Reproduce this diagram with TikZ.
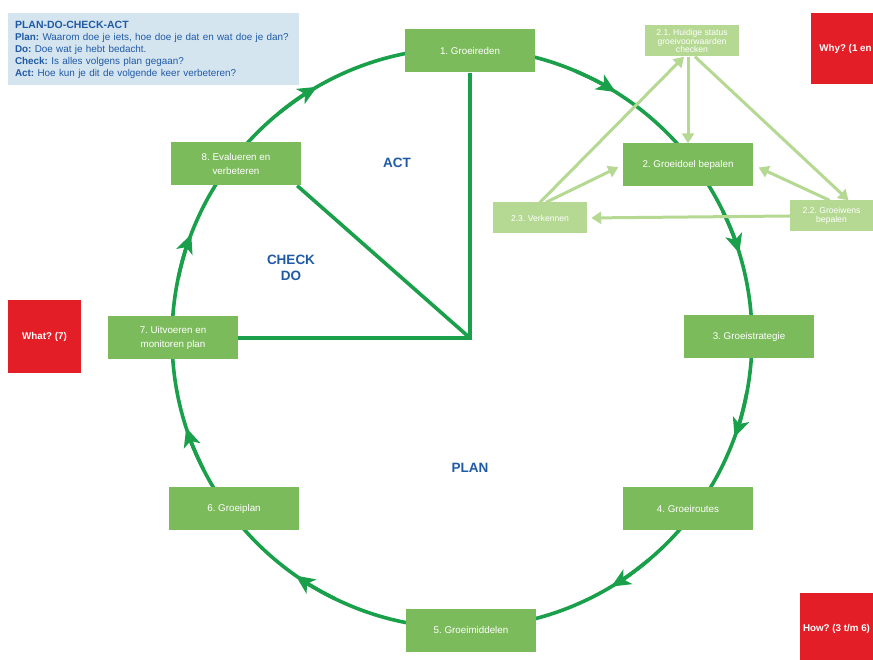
\documentclass[tikz,border=0pt]{standalone}
\usepackage{fontspec}
\setmainfont{Liberation Sans}
\usetikzlibrary{arrows.meta,calc,backgrounds}
\definecolor{boxgreen}{HTML}{7CBB5B}
\definecolor{ringgreen}{HTML}{1AA04A}
\definecolor{lightgreen}{HTML}{B5D992}
\definecolor{redbox}{HTML}{E41E26}
\definecolor{legendbg}{HTML}{D5E5F0}
\definecolor{bluetext}{HTML}{1F5AA6}
\begin{document}
\frenchspacing
\begin{tikzpicture}[x=1pt,y=1pt,
 stepbox/.style={fill=boxgreen, text=white, minimum width=130pt, minimum height=43pt, align=center, font=\fontsize{9.8}{14}\selectfont, inner sep=0pt},
 subbox/.style={fill=lightgreen, text=white, minimum width=94pt, minimum height=31pt, align=center, font=\fontsize{8.6}{8.6}\selectfont, inner sep=0pt},
 redsq/.style={fill=redbox, text=white, font=\bfseries\fontsize{9.8}{12}\selectfont, inner sep=0pt},
 ring/.style={draw=ringgreen, line width=3.6pt},
 ringarrow/.style={draw=ringgreen, fill=ringgreen, line width=3.6pt, -{Stealth[length=19pt,width=17pt,inset=5pt]}},
 lightarrow/.style={draw=lightgreen, line width=3pt, -{Triangle[length=10pt,width=12pt]}},
 phase/.style={text=bluetext, font=\bfseries\fontsize{13.5}{16}\selectfont, align=center},
 legend/.style={fill=legendbg, minimum width=291pt, minimum height=72pt, text width=277pt, align=left, inner sep=0pt, text=bluetext, font=\fontsize{9.9}{12}\selectfont}
]
\clip (0,0) rectangle (873,659);
\useasboundingbox (0,0) rectangle (873,659);

\coordinate (O) at (462,321);
\coordinate (C) at (470,321);

% legend
\node[legend] (leg) at (153.5,609.5) {{\bfseries\fontsize{10.5}{12}\selectfont PLAN-DO-CHECK-ACT}\\
\textbf{Plan:} Waarom doe je iets, hoe doe je dat en wat doe je dan?\\
\textbf{Do:} Doe wat je hebt bedacht.\\
\textbf{Check:} Is alles volgens plan gegaan?\\
\textbf{Act:} Hoe kun je dit de volgende keer verbeteren?};

% main steps
\node[stepbox] (s1) at (470,608) {1. Groeireden};
\node[stepbox] (s2) at (688,494) {2. Groeidoel bepalen};
\node[stepbox] (s3) at (749,322) {3. Groeistrategie};
\node[stepbox] (s4) at (688,150) {4. Groeiroutes};
\node[stepbox] (s5) at (471,29) {5. Groeimiddelen};
\node[stepbox] (s6) at (234,150) {6. Groeiplan};
\node[stepbox] (s7) at (173,321) {7. Uitvoeren en\\monitoren plan};
\node[stepbox] (s8) at (236,495) {8. Evalueren en\\verbeteren};

% sub steps
\node[subbox] (b21) at (692,618) {2.1. Huidige status\\groeivoorwaarden\\checken};
\node[subbox] (b23) at (540,441) {2.3. Verkennen};
\node[subbox, minimum width=83pt] (b22) at (831.5,443) {2.2. Groeiwens\\bepalen};

% red boxes
\node[redsq, anchor=west, minimum width=80pt, minimum height=71pt] (why) at (811,610.5) {Why? (1 en 2)};
\node[redsq, minimum width=73pt, minimum height=73pt] (what) at (44.5,322.5) {What? (7)};
\node[redsq, minimum width=73pt, minimum height=71pt] (how) at (836.5,30.5) {How? (3 t/m 6)};

% phase labels
\node[phase] (act) at (397,496) {ACT};
\node[phase] (chk) at (291,391) {CHECK\\DO};
\node[phase] (plan) at (470,191) {PLAN};

\begin{scope}[on background layer]
\fill[white] (0,0) rectangle (873,659);
\draw[ring] (O) circle (290);
\foreach \a in {17,58,120,159,198,235,301,340}
  \draw[ringarrow] ([shift={(\a+9:290)}]O) arc (\a+9:\a:290);
\draw[ring] (s1.south) -- (C) -- (s7.east);
\draw[ring] (C) -- ($(s8.south east)+(-4,0)$);
\end{scope}

% light arrows
\draw[lightarrow] (b21.south -| s2.north) -- (s2.north);
\draw[lightarrow] ($(b21.south)+(3,0)$) -- ($(b22.north)+(17,0)$);
\draw[lightarrow] (b23.north) -- ($(b21.south)+(-8,0)$);
\draw[lightarrow, shorten >=5pt] ($(b23.north)+(6,0)$) -- (s2.west);
\draw[lightarrow, shorten >=6pt] ($(b22.north)+(-2,0)$) -- (s2.east);
\draw[lightarrow, shorten >=4pt] (b22.west) -- (b23.east);
\end{tikzpicture}
\end{document}
